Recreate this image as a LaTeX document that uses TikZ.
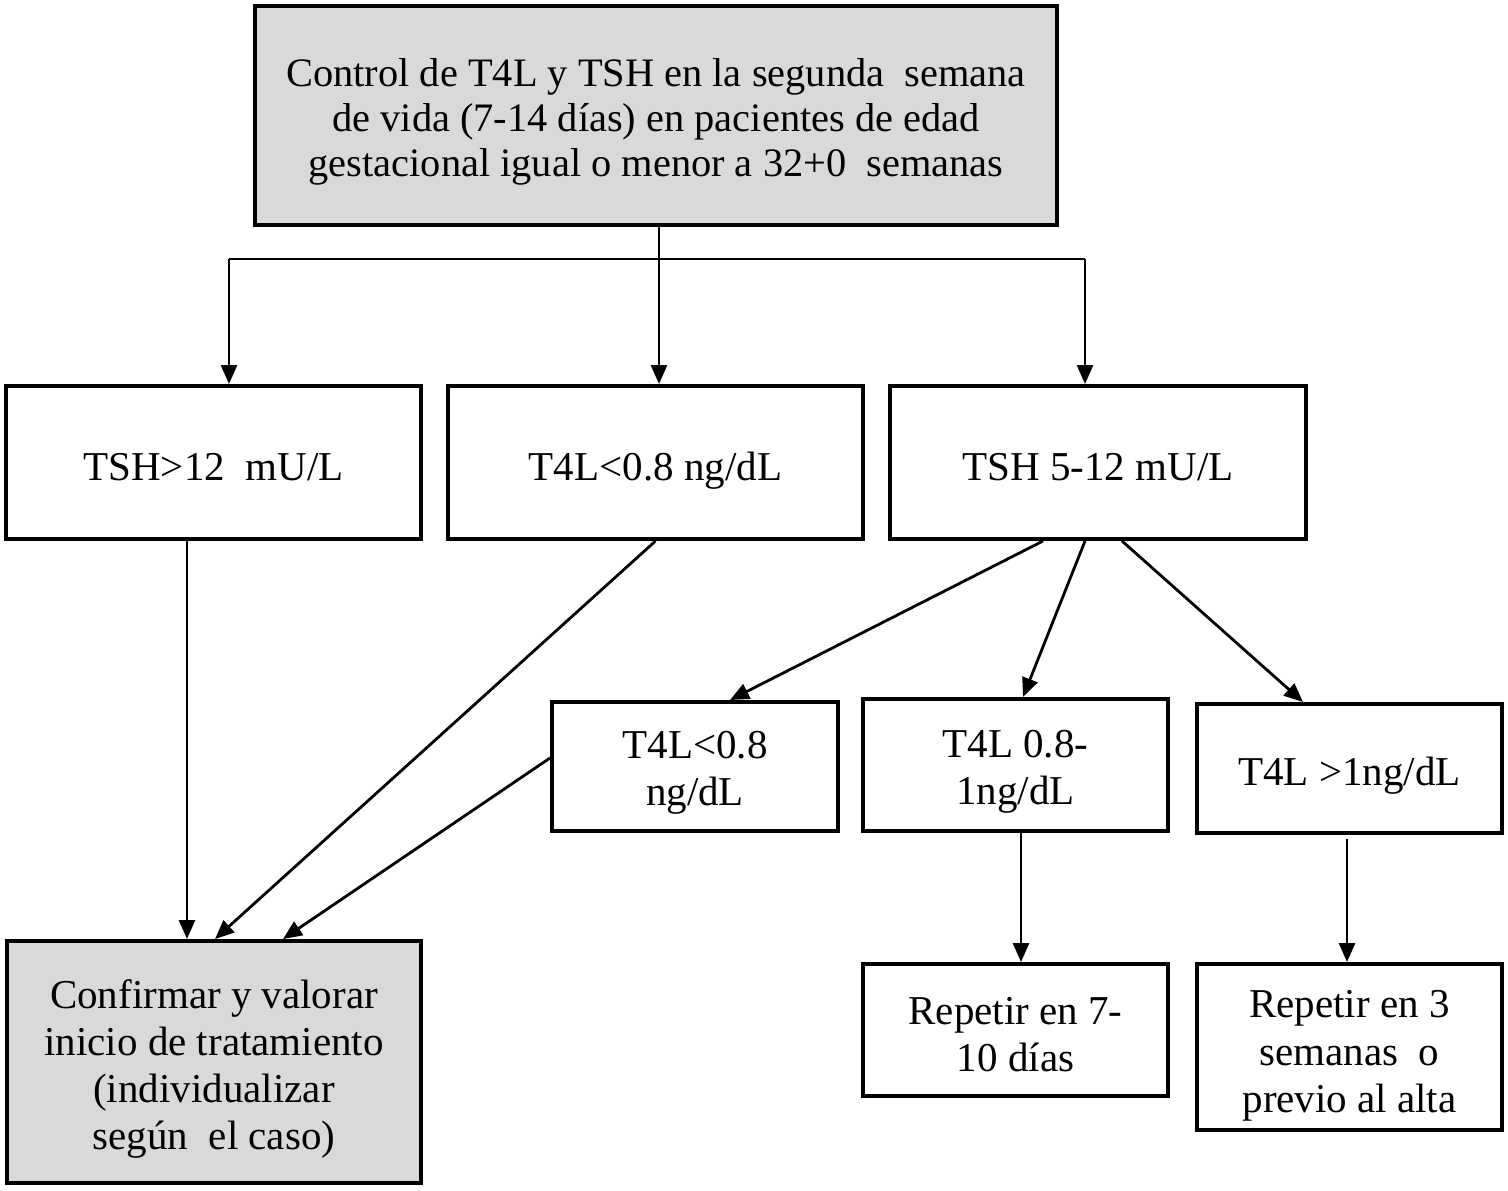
\documentclass[tikz,border=0pt]{standalone}
\usepackage{fontspec}
\setmainfont{Liberation Serif}
\usetikzlibrary{arrows.meta,calc}
\tikzset{every picture/.style={line width=0.75pt}}
\tikzset{
  box/.style={draw, line width=2pt, rectangle, inner sep=0pt},
  greybox/.style={box, fill={rgb, 255:red, 217; green, 217; blue, 217 }},
  txt/.style={inner sep=0.75pt, align=center, font=\fontsize{20.5pt}{23.5pt}\selectfont},
  arr/.style={line width=1.4pt, -{Triangle[length=9.5pt,width=8pt]}}
}

\begin{document}
\begin{tikzpicture}[x=0.5pt,y=0.5pt,yscale=-1,xscale=1]
\useasboundingbox (0,0) rectangle (1508,1190);

%Shape: Rectangle [id:top]
\node [greybox, minimum width=401pt, minimum height=109.5pt] (top) at (656,115.5) {};
%Shape: Rectangle [id:tshhigh]
\node [box, minimum width=207.5pt, minimum height=76.5pt] (tshhigh) at (213.5,462.5) {};
%Shape: Rectangle [id:t4llow]
\node [box, minimum width=207.5pt, minimum height=76.5pt] (t4llow) at (655.5,462.5) {};
%Shape: Rectangle [id:tshmid]
\node [box, minimum width=208pt, minimum height=76.5pt] (tshmid) at (1098,462.5) {};
%Shape: Rectangle [id:sublow]
\node [box, minimum width=143pt, minimum height=64.5pt] (sublow) at (695,766.5) {};
%Shape: Rectangle [id:submid]
\node [box, minimum width=152.5pt, minimum height=66pt] (submid) at (1015.5,765) {};
%Shape: Rectangle [id:subhigh]
\node [box, minimum width=152.5pt, minimum height=64.5pt] (subhigh) at (1349.5,768.5) {};
%Shape: Rectangle [id:confirm]
\node [greybox, minimum width=207pt, minimum height=121pt] (confirm) at (214,1062) {};
%Shape: Rectangle [id:rep7]
\node [box, minimum width=152.5pt, minimum height=66pt] (rep7) at (1015.5,1030) {};
%Shape: Rectangle [id:rep3]
\node [box, minimum width=152.5pt, minimum height=83pt] (rep3) at (1349.5,1047) {};

%Straight Lines [id:split]
\coordinate (split) at (659,259);
\coordinate (splitL) at (229,259);
\coordinate (splitR) at (1085,259);
\draw [line width=1pt] (top.south -| split) -- (split);
\draw [line width=1pt] (splitL) -- (splitR);
\draw [arr] (splitL) -- (splitL |- tshhigh.north);
\draw [arr] (split) -- (split |- t4llow.north);
\draw [arr] (splitR) -- (splitR |- tshmid.north);

%Straight Lines [id:toconfirm]
\draw [arr] ($(tshhigh.south)+(-26.5,0)$) -- ($(confirm.north)+(-27,0)$);
\draw [arr] (t4llow.south) -- ($(confirm.north)+(1,0)$);
\draw [arr] ($(sublow.west)+(0,-8.5)$) -- ($(confirm.north)+(69,0)$);

%Straight Lines [id:fromtshmid]
\draw [arr] ($(tshmid.south)+(-55,0)$) -- ($(sublow.north)+(35,0)$);
\draw [arr] ($(tshmid.south)+(-13,0)$) -- ($(submid.north)+(7.5,0)$);
\draw [arr] ($(tshmid.south)+(24,0)$) -- ($(subhigh.north)+(-46.5,0)$);

%Straight Lines [id:torepeat]
\draw [arr] ($(submid.south)+(5.5,0)$) -- ($(rep7.north)+(5.5,0)$);
\draw [arr] ($(subhigh.south)+(-2.5,4)$) -- ($(rep3.north)+(-2.5,0)$);

% Text Node
\node [txt, font=\fontsize{20.2pt}{22.5pt}\selectfont] (toptxt) at ($(top)+(0,6)$)
  {Control de T4L y TSH en la segunda\ \ semana\\ de vida (7-14 días) en pacientes de edad\\ gestacional igual o menor a 32+0\ \ semanas};
% Text Node
\node [txt, anchor=base] (tshhightxt) at ($(tshhigh)+(0,17.5)$) {TSH>12\ \ mU/L};
% Text Node
\node [txt, anchor=base] (t4llowtxt) at ($(t4llow)+(0,17.5)$) {T4L<0.8 ng/dL};
% Text Node
\node [txt, anchor=base] (tshmidtxt) at ($(tshmid)+(0,17.5)$) {TSH 5-12 mU/L};
% Text Node
\node [txt] (sublowtxt) at ($(sublow)+(0,6)$) {T4L<0.8\\ ng/dL};
% Text Node
\node [txt] (submidtxt) at ($(submid)+(0,7)$) {T4L 0.8-\\ 1ng/dL};
% Text Node
\node [txt, anchor=base] (subhightxt) at ($(subhigh)+(0,16.5)$) {T4L >1ng/dL};
% Text Node
\node [txt] (confirmtxt) at ($(confirm)+(0,7)$) {Confirmar y valorar\\ inicio de tratamiento\\ (individualizar\\ según\ \ el caso)};
% Text Node
\node [txt] (rep7txt) at ($(rep7)+(0,5)$) {Repetir en 7-\\ 10 días};
% Text Node
\node [txt, font=\fontsize{20.5pt}{23.75pt}\selectfont] (rep3txt) at ($(rep3)+(0,9)$) {Repetir en 3\\ semanas\ \ o\\ previo al alta};
\end{tikzpicture}
\end{document}
